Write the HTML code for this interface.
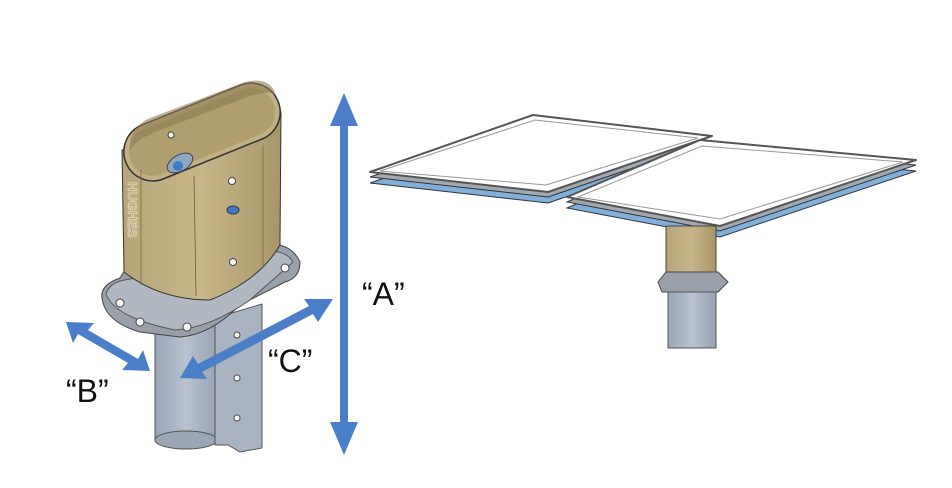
<!DOCTYPE html>
<html><head><meta charset="utf-8"><style>
html,body{margin:0;padding:0;background:#fff;width:952px;height:488px;overflow:hidden}
svg{display:block}
text{font-family:"Liberation Sans",sans-serif;fill:#111}
</style></head><body>
<svg width="952" height="488" viewBox="0 0 952 488" xmlns="http://www.w3.org/2000/svg">
<defs>
<linearGradient id="gold" x1="0" x2="1"><stop offset="0" stop-color="#b7a57a"/><stop offset="0.5" stop-color="#c8b68a"/><stop offset="1" stop-color="#a8956a"/></linearGradient>
<linearGradient id="pipe" x1="0" x2="1"><stop offset="0" stop-color="#9aa5b6"/><stop offset="0.5" stop-color="#b8c2d0"/><stop offset="1" stop-color="#97a2b3"/></linearGradient>
</defs>
<!-- Left assembly -->
<rect x="155" y="320" width="62" height="120" fill="url(#pipe)" stroke="#555" stroke-width="1"/>
<ellipse cx="186" cy="440" rx="31" ry="9" fill="#9aa5b6" stroke="#555"/>
<polygon points="215,318 262,304 262,448 240,452 228,445 215,445" fill="#a9b3c2" stroke="#555"/>
<circle cx="237" cy="335" r="3" fill="#fff" stroke="#444"/>
<circle cx="237" cy="378" r="3" fill="#fff" stroke="#444"/>
<circle cx="237" cy="418" r="3" fill="#fff" stroke="#444"/>
<!-- flange -->
<path d="M102,298 Q100,285 120,278 L130,262 L260,245 Q290,240 300,262 Q300,278 285,282 L240,305 Q210,335 180,337 L140,332 Q105,322 102,298 Z" fill="#9aa0aa" stroke="#444"/>
<path d="M106,294 Q110,282 125,280 L260,252 Q285,248 293,262 L250,300 Q210,328 175,330 Q115,318 106,294 Z" fill="#b2b8c2" stroke="#555"/>
<circle cx="120" cy="303" r="4" fill="#fff" stroke="#444"/>
<circle cx="140" cy="322" r="4" fill="#fff" stroke="#444"/>
<circle cx="187" cy="327" r="4" fill="#fff" stroke="#444"/>
<circle cx="285" cy="268" r="4" fill="#fff" stroke="#444"/>
<!-- gold tube body -->
<path d="M122,150 L124,272 Q160,300 210,300 Q260,280 280,245 L281,112 L200,140 Z" fill="url(#gold)" stroke="#333"/>
<!-- top opening (tilted stadium) -->
<rect x="120" y="103" width="164" height="58" rx="29" fill="#c2b084" stroke="#333" stroke-width="1.5" transform="rotate(-22 202 132)"/>
<rect x="125" y="108" width="154" height="48" rx="24" fill="#b09d70" transform="rotate(-22 202 132)"/>
<path d="M130,150 Q128,128 150,118 L245,82 Q270,76 276,95 Q270,90 250,96 L155,132 Q136,140 130,150 Z" fill="#8d7b52" opacity="0.6"/>
<ellipse cx="180" cy="163" rx="14" ry="8" fill="#8fa6c0" stroke="#444" transform="rotate(-30 180 163)"/>
<circle cx="178" cy="166" r="5" fill="#3d7cc7"/>
<line x1="194" y1="176" x2="196" y2="296" stroke="#6b5b3a" stroke-width="0.8"/>
<line x1="263" y1="145" x2="263" y2="268" stroke="#7a6a48" stroke-width="0.8"/>
<line x1="141" y1="170" x2="141" y2="285" stroke="#7a6a48" stroke-width="0.8"/>
<circle cx="171" cy="135" r="3" fill="#fff" stroke="#444"/>
<circle cx="232" cy="181" r="3.5" fill="#fff" stroke="#444"/>
<ellipse cx="233" cy="210" rx="6" ry="4" fill="#3d7cc7" stroke="#333"/>
<circle cx="233" cy="262" r="3.5" fill="#fff" stroke="#444"/>
<text x="0" y="0" transform="translate(128,182) rotate(90)" font-size="13" font-weight="bold" style="fill:none;stroke:#e8dcc0;stroke-width:0.7">HUGHES</text>
<!-- Arrows -->
<g fill="#4a7ec8">
<rect x="340" y="120" width="8" height="306"/>
<polygon points="344,93 330,126 358,126"/>
<polygon points="344,455 330,422 358,422"/>
<polygon points="66,322 94,323 88,330 138,359 143,350 150,371 122,370 128,363 78,334 73,343"/>
<polygon points="333,299 318,322 313,314 202,372 207,379 180,378 193,356 198,364 309,306 304,299"/>
</g>
<text x="362" y="305" font-size="32">“A”</text>
<text x="66" y="402" font-size="32">“B”</text>
<text x="268" y="372" font-size="32">“C”</text>

<!-- Right assembly -->
<polygon points="370,172 533,115 712,136 548,192" fill="#7fb0dc" stroke="#333" transform="translate(0,11)"/>
<polygon points="370,172 533,115 712,136 548,192" fill="#a0a8b2" stroke="#333" transform="translate(0,5)"/>
<polygon points="370,172 533,115 712,136 548,192" fill="#fff" stroke="#555" stroke-width="2" stroke-linejoin="round"/>
<polygon points="380,171 535,120 698,138 546,185" fill="#fff" stroke="#999" stroke-width="1"/>
<polygon points="567,197 700,140 916,160 720,226" fill="#7fb0dc" stroke="#333" transform="translate(0,11)"/>
<polygon points="567,197 700,140 916,160 720,226" fill="#a0a8b2" stroke="#333" transform="translate(0,5)"/>
<polygon points="567,197 700,140 916,160 720,226" fill="#fff" stroke="#555" stroke-width="2" stroke-linejoin="round"/>
<polygon points="578,197 702,146 903,162 720,219" fill="#fff" stroke="#999" stroke-width="1"/>
<rect x="666" y="226" width="50" height="48" fill="url(#gold)" stroke="#444"/>
<path d="M658,282 L666,272 L718,272 L728,282 L718,292 L662,292 Z" fill="#9aa0aa" stroke="#444"/>
<rect x="668" y="292" width="48" height="56" fill="url(#pipe)" stroke="#555"/>
</svg>
</body></html>
